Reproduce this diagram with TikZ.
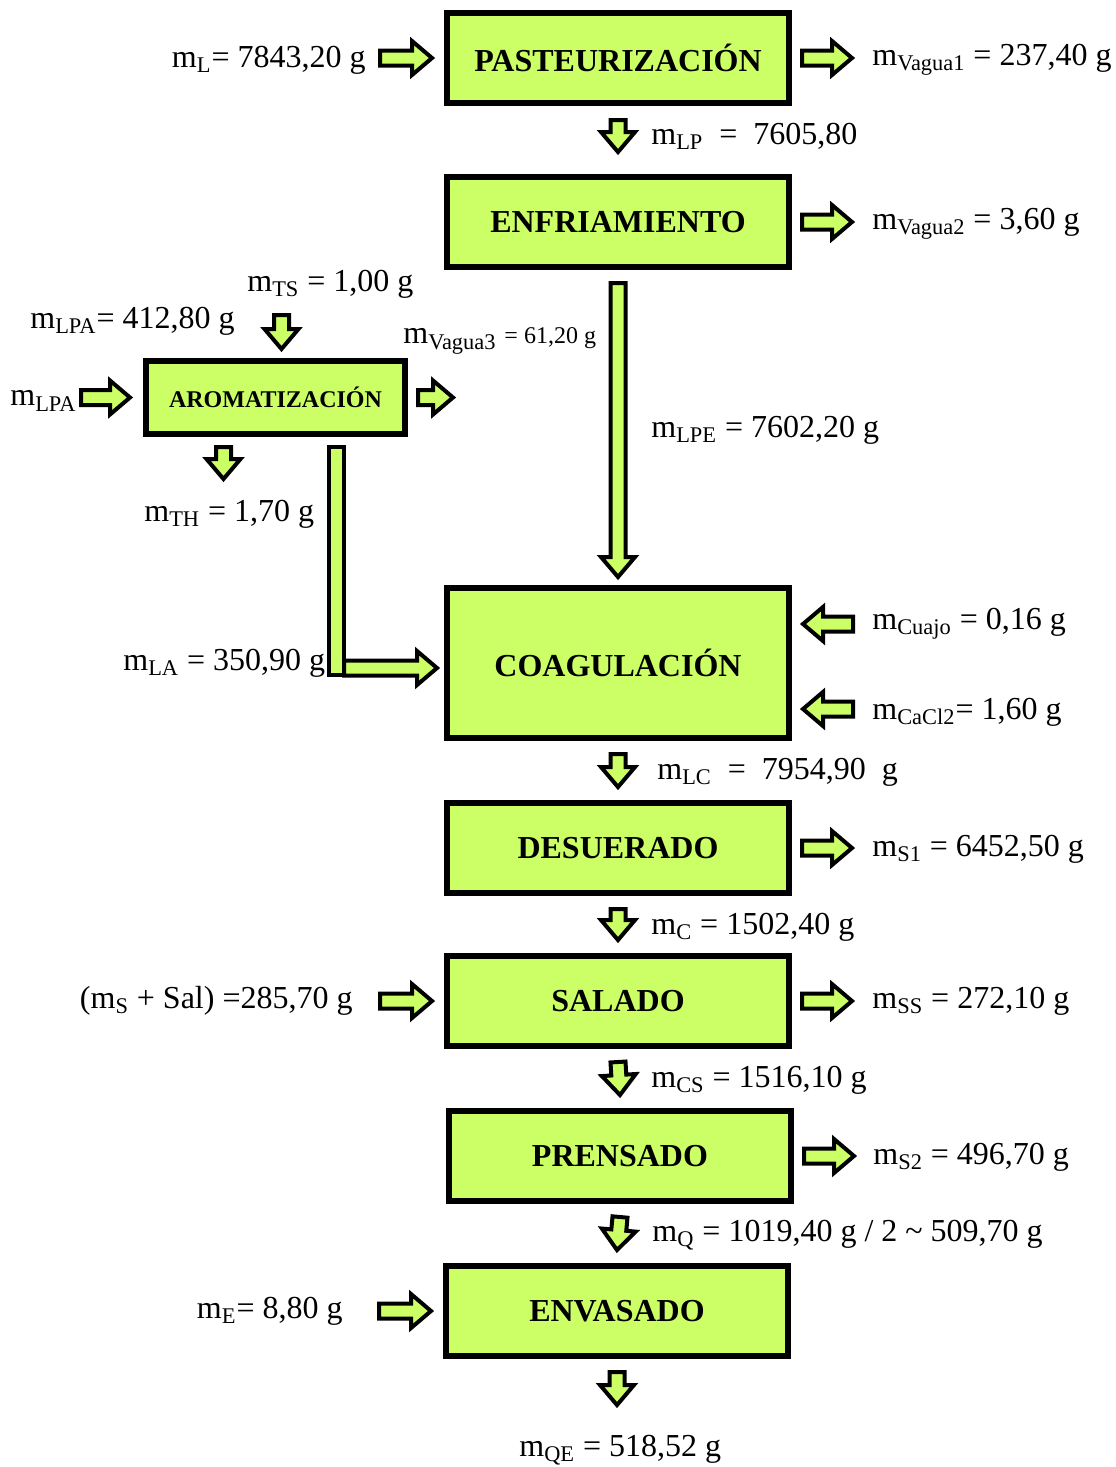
\documentclass[tikz,border=0pt]{standalone}
\usepackage{fontspec}
\setmainfont{Liberation Serif}
\usetikzlibrary{positioning,calc,shadows}
\definecolor{cProc}{HTML}{CCFF66}
\definecolor{cInk}{HTML}{000000}
\tikzset{
  proc/.style={draw=cInk, line width=3pt, outer sep=0pt, fill=cProc, minimum width=171pt, minimum height=45pt,
    font=\fontsize{16}{19}\selectfont\bfseries, drop shadow={opacity=0.3, shadow xshift=1.5pt, shadow yshift=-1.5pt}},
  blk/.style={draw=cInk, line width=2pt, fill=cProc, line join=miter},
  lbl/.style={inner sep=0pt, font=\fontsize{16}{19}\selectfont},
}
% block arrow from #1 to #2
\newcommand\blkar[2]{%
  \coordinate (ba-s) at (#1);
  \coordinate (ba-e) at (#2);
  \coordinate (ba-h) at ($(ba-e)!10pt!(ba-s)$);
  \draw[blk] ($(ba-s)!3.75pt!90:(ba-e)$) -- ($(ba-h)!3.75pt!90:(ba-e)$) -- ($(ba-h)!8.5pt!90:(ba-e)$) -- (ba-e)
    -- ($(ba-h)!8.5pt!-90:(ba-e)$) -- ($(ba-h)!3.75pt!-90:(ba-e)$) -- ($(ba-s)!3.75pt!-90:(ba-e)$) -- cycle;}
\begin{document}
\begin{tikzpicture}[x=0.5pt, y=-0.5pt, node distance=32.5pt]
\useasboundingbox (0,0) rectangle (1115,1467);
% process chain
\node[proc] (past) at (618,58) {PASTEURIZACIÓN};
\node[proc, below=37pt of past] (enfr) {ENFRIAMIENTO};
\node[proc, minimum height=75pt, below=160.5pt of enfr] (coag) {COAGULACIÓN};
\node[proc, below=of coag] (desu) {DESUERADO};
\node[proc, below=31.5pt of desu] (sala) {SALADO};
\node[proc, below=of sala, xshift=1pt] (pren) {PRENSADO};
\node[proc, below=of pren, xshift=-1.5pt] (enva) {ENVASADO};
\node[proc, minimum width=129.5pt, minimum height=36.5pt, font=\fontsize{12}{14}\selectfont\bfseries] (arom) at (275.5,397.5) {AROMATIZACIÓN};
% arrows of the chain
\blkar{[xshift=-33.5pt]past.west}{[xshift=-7.5pt]past.west}
\blkar{[xshift=6.5pt]past.east}{[xshift=31.5pt]past.east}
\blkar{[yshift=-8.5pt]past.south}{[yshift=12.5pt]enfr.north}
\blkar{[xshift=6.5pt]enfr.east}{[xshift=31.5pt]enfr.east}
\blkar{[yshift=-8pt]enfr.south}{[yshift=5.5pt]coag.north}
\blkar{[xshift=32pt,yshift=19.5pt]coag.east}{[xshift=7pt,yshift=19.5pt]coag.east}
\blkar{[xshift=32pt,yshift=-23pt]coag.east}{[xshift=7pt,yshift=-23pt]coag.east}
\blkar{[yshift=-8pt]coag.south}{[yshift=8pt]desu.north}
\blkar{[xshift=6.5pt]desu.east}{[xshift=31.5pt]desu.east}
\blkar{[yshift=-8pt]desu.south}{[yshift=8pt]sala.north}
\blkar{[xshift=-33.5pt]sala.west}{[xshift=-7.5pt]sala.west}
\blkar{[xshift=6.5pt]sala.east}{[xshift=31.5pt]sala.east}
\blkar{[yshift=-8pt]sala.south}{[yshift=8pt]pren.north}
\blkar{[xshift=6.5pt]pren.east}{[xshift=31.5pt]pren.east}
\blkar{[yshift=-8pt]pren.south}{[yshift=8pt]enva.north}
\blkar{[xshift=-33.5pt]enva.west}{[xshift=-7.5pt]enva.west}
\blkar{[yshift=-8pt]enva.south}{[yshift=-24.5pt]enva.south}
% aromatizacion branch
\blkar{[xshift=3pt,yshift=23pt]arom.north}{[xshift=3pt,yshift=6pt]arom.north}
\blkar{[xshift=-32.5pt]arom.west}{[xshift=-8pt]arom.west}
\blkar{[xshift=6.5pt]arom.east}{[xshift=24pt]arom.east}
\blkar{[xshift=-26pt,yshift=-6.5pt]arom.south}{[xshift=-26pt,yshift=-22.5pt]arom.south}
\coordinate (la-top) at ([xshift=30.5pt,yshift=-6.5pt]arom.south);
\coordinate (la-in) at ([xshift=-5pt,yshift=-2.5pt]coag.west);
\draw[blk] ($(la-top)+(-3.75pt,0)$) rectangle ($(la-top |- la-in)+(3.75pt,-3.5pt)$);
\blkar{$(la-top |- la-in)+(3.75pt,0)$}{la-in}
% labels
\node[lbl, anchor=east] (l-l) at (366,60) {m\textsubscript{L}= 7843,20 g};
\node[lbl, anchor=west] (l-va1) at (872,60) {m\textsubscript{Vagua1} = 237,40 g};
\node[lbl, anchor=west] (l-lp) at (651,136) {m\textsubscript{LP}\ \ =\ \ 7605,80};
\node[lbl, anchor=west] (l-va2) at (872,224) {m\textsubscript{Vagua2} = 3,60 g};
\node[lbl, anchor=west] (l-ts) at (247,284) {m\textsubscript{TS} = 1,00 g};
\node[lbl, anchor=west] (l-lpa) at (30,321) {m\textsubscript{LPA}= 412,80 g};
\node[lbl, anchor=west] (l-lpa2) at (10,401) {m\textsubscript{LPA}};
\node[lbl, anchor=west] (l-va3) at (403,341) {m\textsubscript{Vagua3} {\fontsize{12}{14}\selectfont = 61,20 g}};
\node[lbl, anchor=west] (l-th) at (144,514) {m\textsubscript{TH} = 1,70 g};
\node[lbl, anchor=west] (l-la) at (123,663) {m\textsubscript{LA} = 350,90 g};
\node[lbl, anchor=west] (l-lpe) at (651,430) {m\textsubscript{LPE} = 7602,20 g};
\node[lbl, anchor=west] (l-cu) at (872,624) {m\textsubscript{Cuajo} = 0,16 g};
\node[lbl, anchor=west] (l-ca) at (872,712) {m\textsubscript{CaCl2}= 1,60 g};
\node[lbl, anchor=west] (l-lc) at (657,772) {m\textsubscript{LC}\ \ =\ \ 7954,90\ \ g};
\node[lbl, anchor=west] (l-s1) at (872,849) {m\textsubscript{S1} = 6452,50 g};
\node[lbl, anchor=west] (l-c) at (651,927) {m\textsubscript{C} = 1502,40 g};
\node[lbl, anchor=east] (l-sal) at (353,1001) {(m\textsubscript{S} + Sal) =285,70 g};
\node[lbl, anchor=west] (l-ss) at (872,1001) {m\textsubscript{SS} = 272,10 g};
\node[lbl, anchor=west] (l-cs) at (651,1080) {m\textsubscript{CS} = 1516,10 g};
\node[lbl, anchor=west] (l-s2) at (873,1157) {m\textsubscript{S2} = 496,70 g};
\node[lbl, anchor=west] (l-q) at (652,1235) {m\textsubscript{Q} = 1019,40 g / 2 \textasciitilde{} 509,70 g};
\node[lbl, anchor=east] (l-e) at (343,1311) {m\textsubscript{E}= 8,80 g};
\node[lbl, anchor=west] (l-qe) at (519,1450) {m\textsubscript{QE} = 518,52 g};
\end{tikzpicture}
\end{document}
